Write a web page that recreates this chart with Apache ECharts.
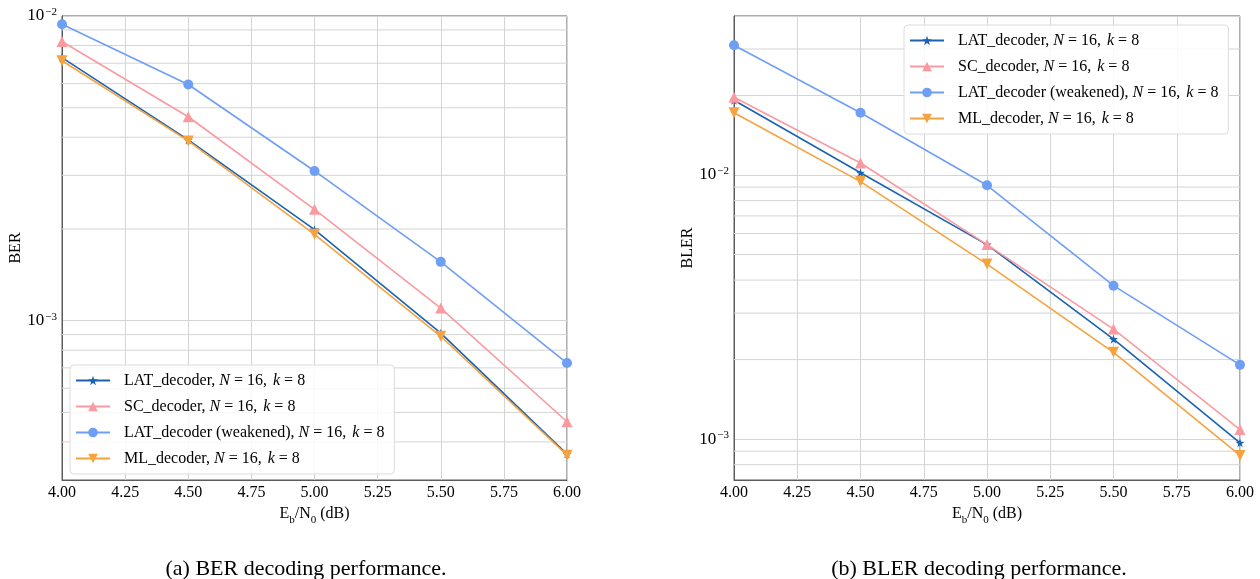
<!DOCTYPE html>
<html>
<head>
<meta charset="utf-8">
<script src="https://cdn.jsdelivr.net/npm/echarts@6/dist/echarts.min.js"></script>
<style>
  html, body { margin: 0; padding: 0; background: #fff; }
  #chart { width: 1260px; height: 579px; }
</style>
</head>
<body>
<div id="chart"></div>
<script>
// Eb/N0 points (dB)
const ebn0 = [4.0, 4.5, 5.0, 5.5, 6.0];

// Decoder names (legend order)
const decoders = ['LAT_decoder', 'SC_decoder', 'LAT_decoder (weakened)', 'ML_decoder'];

// Bit error rate
const berLat  = [7.30e-3, 3.92e-3, 1.99e-3, 9.10e-4, 3.65e-4];
const berSc   = [8.25e-3, 4.67e-3, 2.32e-3, 1.10e-3, 4.66e-4];
const berWeak = [9.40e-3, 5.96e-3, 3.10e-3, 1.56e-3, 7.26e-4];
const berMl   = [7.13e-3, 3.89e-3, 1.92e-3, 8.89e-4, 3.62e-4];

// Block error rate
const blerLat  = [1.92e-2, 1.02e-2, 5.45e-3, 2.39e-3, 9.68e-4];
const blerSc   = [1.97e-2, 1.11e-2, 5.45e-3, 2.61e-3, 1.087e-3];
const blerWeak = [3.10e-2, 1.72e-2, 9.14e-3, 3.81e-3, 1.91e-3];
const blerMl   = [1.72e-2, 9.44e-3, 4.60e-3, 2.13e-3, 8.67e-4];

// Minor log grid levels
const berMinor  = [4e-4, 5e-4, 6e-4, 7e-4, 8e-4, 9e-4, 2e-3, 3e-3, 4e-3, 5e-3, 6e-3, 7e-3, 8e-3, 9e-3];
const blerMinor = [8e-4, 9e-4, 2e-3, 3e-3, 4e-3, 5e-3, 6e-3, 7e-3, 8e-3, 9e-3, 2e-2, 3e-2];

const FONT = '"Liberation Serif", "DejaVu Serif", serif';
const GRID_COLOR = '#d4d4d4';
const FRAME_COLOR = '#5c5c5c';

const colors = ['#1a63b0', '#fa9aa0', '#6e9ff5', '#f6a23f'];
const STAR = 'path://M50,0 L61.2,34.5 L97.6,34.5 L68.2,55.9 L79.4,90.5 L50,69.1 L20.6,90.5 L31.8,55.9 L2.4,34.5 L38.8,34.5 Z';
const marks = [
  { symbol: STAR, size: 9, rotate: 0 },
  { symbol: 'triangle', size: 11, rotate: 0 },
  { symbol: 'circle', size: 10, rotate: 0 },
  { symbol: 'triangle', size: 11, rotate: 180 }
];

function pairs(ys) { return ebn0.map((x, i) => [x, ys[i]]); }

function logLabel(v) {
  const l = Math.log10(v);
  const e = Math.round(l);
  if (Math.abs(l - e) > 1e-6) return '';
  return '{b|10}{s|' + (e < 0 ? '\u2212' + (-e) : e) + '}';
}

const xName = '{t|E}{sub|b}{t|/N}{sub|0}{t| (dB)}';
const nameRich = {
  t: { fontFamily: FONT, fontSize: 16, color: '#000' },
  sub: { fontFamily: FONT, fontSize: 11, color: '#000', verticalAlign: 'bottom', padding: [0, 0, -4, 0] }
};

function xAxisDef(idx) {
  return {
    type: 'value', gridIndex: idx, min: 4, max: 6, interval: 0.25,
    name: xName, nameLocation: 'middle', nameGap: 16,
    nameTextStyle: { rich: nameRich },
    axisLine: { show: true, lineStyle: { color: FRAME_COLOR, width: 1 } },
    axisTick: { show: false },
    axisLabel: { margin: 5, fontFamily: FONT, fontSize: 16, color: '#000',
                 formatter: v => v.toFixed(2) },
    splitLine: { show: true, lineStyle: { color: GRID_COLOR, width: 1 } }
  };
}

function yAxisDef(idx, name, min, max, gap) {
  return {
    type: 'log', logBase: 10, gridIndex: idx, min: min, max: max,
    name: name, nameLocation: 'middle', nameGap: gap, nameRotate: 90,
    nameTextStyle: { fontFamily: FONT, fontSize: 16, color: '#000' },
    axisLine: { show: true, lineStyle: { color: FRAME_COLOR, width: 1 } },
    axisTick: { show: false },
    axisLabel: {
      margin: 5, formatter: logLabel,
      rich: {
        b: { fontFamily: FONT, fontSize: 17, color: '#000' },
        s: { fontFamily: FONT, fontSize: 11, color: '#000', verticalAlign: 'top', padding: [0, 0, 8, 1] }
      }
    },
    splitLine: { show: true, lineStyle: { color: GRID_COLOR, width: 1 } }
  };
}

function lineSeries(i, data, axisIdx) {
  return {
    type: 'line', name: decoders[i], xAxisIndex: axisIdx, yAxisIndex: axisIdx,
    data: pairs(data), z: 3 + i,
    symbol: marks[i].symbol, symbolSize: marks[i].size, symbolRotate: marks[i].rotate,
    showSymbol: true,
    itemStyle: { color: colors[i] },
    lineStyle: { color: colors[i], width: 1.6 },
    emphasis: { disabled: true },
    animation: false
  };
}

// Minor horizontal grid: one flat line across the x range per level
function gridLines(axisIdx, levels) {
  return levels.map(v => ({
    type: 'line', xAxisIndex: axisIdx, yAxisIndex: axisIdx,
    data: [[4, v], [6, v]], z: 1,
    symbol: 'none', silent: true, animation: false, legendHoverLink: false,
    lineStyle: { color: GRID_COLOR, width: 1 },
    emphasis: { disabled: true }
  }));
}

const legendRich = {
  p: { fontFamily: FONT, fontSize: 16, color: '#000', padding: [0, 0, 0, 9] },
  t: { fontFamily: FONT, fontSize: 16, color: '#000' },
  c: { fontFamily: FONT, fontSize: 16, color: '#000', padding: [0, 2, 0, 0] },
  e: { fontFamily: FONT, fontSize: 16, color: '#000', padding: [0, 4, 0, 4] },
  i: { fontFamily: FONT, fontSize: 16, color: '#000', fontStyle: 'italic' }
};
function legendText(name) {
  return '{p|' + name + ', }{i|N}{e|=}{c|16, }{i|k}{e|=}{t|8}';
}
function legendDef(left, top) {
  return {
    left: left, top: top, orient: 'vertical',
    data: decoders,
    itemWidth: 34, itemHeight: 12, itemGap: 7,
    padding: [6, 10, 6, 5],
    backgroundColor: 'rgba(255,255,255,0.85)',
    borderColor: '#dcdcdc', borderWidth: 1, borderRadius: 4,
    selectedMode: false,
    formatter: legendText,
    textStyle: { fontFamily: FONT, fontSize: 16, color: '#000', lineHeight: 19, rich: legendRich }
  };
}

const chart = echarts.init(document.getElementById('chart'), null, { renderer: 'canvas' });
chart.setOption({
  backgroundColor: '#fff',
  animation: false,
  textStyle: { fontFamily: FONT },
  grid: [
    { left: 62, top: 16, width: 505, height: 464, show: true, borderColor: FRAME_COLOR, borderWidth: 1,
      containLabel: false, outerBoundsMode: 'none' },
    { left: 734, top: 16, width: 506, height: 464, show: true, borderColor: FRAME_COLOR, borderWidth: 1,
      containLabel: false, outerBoundsMode: 'none' }
  ],
  xAxis: [xAxisDef(0), xAxisDef(1)],
  yAxis: [yAxisDef(0, 'BER', 3e-4, 1e-2, 37), yAxisDef(1, 'BLER', 7e-4, 4e-2, 36)],
  legend: [legendDef(70, 365), legendDef(904, 25)],
  series: [].concat(
    gridLines(0, berMinor),
    gridLines(1, blerMinor),
    [
      lineSeries(0, berLat, 0),
      lineSeries(1, berSc, 0),
      lineSeries(2, berWeak, 0),
      lineSeries(3, berMl, 0),
      lineSeries(0, blerLat, 1),
      lineSeries(1, blerSc, 1),
      lineSeries(2, blerWeak, 1),
      lineSeries(3, blerMl, 1)
    ]
  ),
  graphic: [
    { type: 'text', x: 306, y: 569, style: { text: '(a) BER decoding performance.', font: '22px ' + FONT,
      fill: '#000', align: 'center', verticalAlign: 'middle' } },
    { type: 'text', x: 979, y: 569, style: { text: '(b) BLER decoding performance.', font: '22px ' + FONT,
      fill: '#000', align: 'center', verticalAlign: 'middle' } }
  ]
});
</script>
</body>
</html>
